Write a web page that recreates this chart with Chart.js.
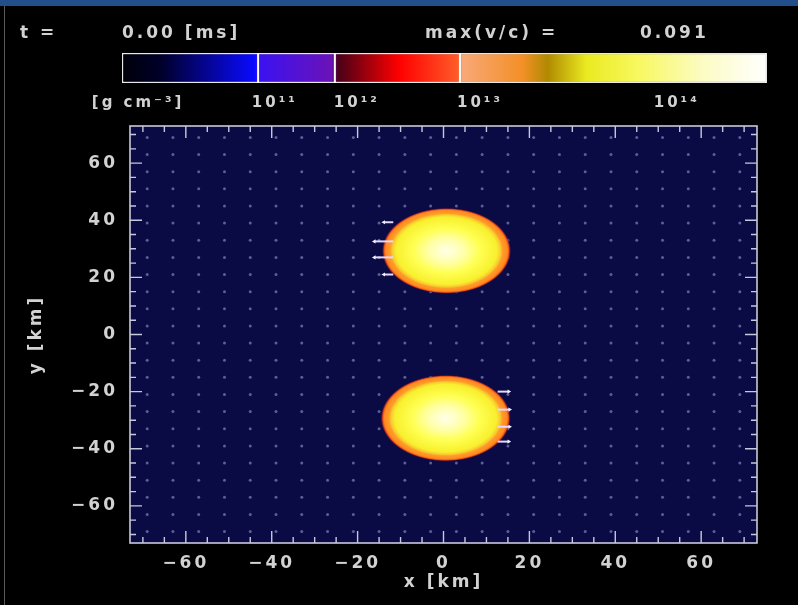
<!DOCTYPE html>
<html><head><meta charset="utf-8">
<script src="https://cdn.jsdelivr.net/npm/chart.js@4.4.1/dist/chart.umd.min.js"></script>
<style>
html,body{margin:0;padding:0;background:#000;width:798px;height:605px;overflow:hidden;}
#band{position:absolute;left:0;top:0;width:798px;height:6px;background:#224f8b;}
#edge{position:absolute;left:4px;top:6px;width:1px;height:599px;background:#5a5a5a;}
#wrapCb{position:absolute;left:0;top:0;width:798px;height:120px;}
#wrapMain{position:absolute;left:0;top:120px;width:798px;height:485px;}
canvas{filter:blur(0.45px);}
</style></head><body>
<div id="wrapCb"><canvas id="cb" width="798" height="120"></canvas></div>
<div id="wrapMain"><canvas id="main" width="798" height="485"></canvas></div>
<div id="band"></div><div id="edge"></div>
<script>
// ---------- data ----------
const headerText = ['t =', '0.00 [ms]', 'max(v/c) =', '0.091'];
const cbLabels = ['[g cm\u207B\u00B3]', '10\u00B9\u00B9', '10\u00B9\u00B2', '10\u00B9\u00B3', '10\u00B9\u2074'];
const cbLabelPos = [0.025, 0.237, 0.364, 0.555, 0.860];
const cbDecadePos = [0.211, 0.330, 0.524];
const xTicks = [-60, -40, -20, 0, 20, 40, 60];
const yTicks = [-60, -40, -20, 0, 20, 40, 60];
const gridCoords = [-69,-63,-57,-51,-45,-39,-33,-27,-21,-15,-9,-3,3,9,15,21,27,33,39,45,51,57,63,69];
const starX = [0.7, 0.5];
const starY = [29.3, -29.3];
const starR = [14.5, 14.6];
const arrowY  = [39.3, 32.6, 27.0, 21.0, -20.0, -26.3, -32.3, -37.5];
const arrowX0 = [-11.7, -11.7, -11.7, -11.7, 12.6, 12.6, 12.6, 12.6];
const arrowX1 = [-13.9, -16.1, -16.1, -13.9, 15.2, 15.4, 15.4, 15.2];

// ---------- styles ----------
const TXT = '#d2d2d2';
const FONT = 'DejaVu Sans';
const cbStops = [[0,'#00000a'],[0.06,'#00002a'],[0.205,'#0a0aff'],[0.215,'#3c12f0'],[0.325,'#6a12b8'],
  [0.335,'#4a0018'],[0.43,'#ff0000'],[0.52,'#ff5a28'],[0.528,'#f8a878'],[0.62,'#f49028'],
  [0.66,'#b08a00'],[0.72,'#eaea20'],[0.8,'#f8f860'],[0.9,'#fcfcc4'],[1,'#ffffff']];
const starStops = [[0,'#ffffea'],[0.28,'#ffffa8'],[0.52,'#ffff52'],[0.78,'#f8f02e'],[0.84,'#f8c830'],
  [0.87,'#ff9c28'],[0.94,'#ff8a20'],[0.965,'#e85018'],[0.985,'rgba(120,20,50,0.6)'],[1,'rgba(40,10,70,0)']];

const spacing = (ls) => ({
  id: 'spacing',
  beforeUpdate(chart){ chart.ctx.letterSpacing = ls; },
  beforeDraw(chart){ chart.ctx.letterSpacing = ls; }
});

// ---------- colour bar ----------
const cbSeparators = {
  id: 'cbSep',
  afterDatasetsDraw(chart){
    const c = chart.ctx, xs = chart.scales.x, a = chart.chartArea;
    c.save(); c.strokeStyle = '#ffffff'; c.lineWidth = 2;
    cbDecadePos.forEach(p => { const x = xs.getPixelForValue(p);
      c.beginPath(); c.moveTo(x, a.top); c.lineTo(x, a.bottom); c.stroke(); });
    c.restore();
  }
};
const header = {
  id: 'header',
  afterDraw(chart){
    const c = chart.ctx, xs = [20, 122, 425, 640];
    c.save(); c.font = 'bold 17px ' + FONT; c.fillStyle = TXT; c.letterSpacing = '3px';
    c.textBaseline = 'middle'; c.textAlign = 'left';
    headerText.forEach((t, i) => c.fillText(t, xs[i], 34));
    c.restore();
  }
};
new Chart(document.getElementById('cb'), {
  type: 'bar',
  data: { labels: ['rho'], datasets: [{
    data: [[0, 1]],
    backgroundColor: (ctx) => {
      const ch = ctx.chart; if (!ch.chartArea) return '#000';
      const xs = ch.scales.x;
      const g = ch.ctx.createLinearGradient(xs.getPixelForValue(0), 0, xs.getPixelForValue(1), 0);
      cbStops.forEach(s => g.addColorStop(s[0], s[1])); return g;
    },
    borderColor: '#e8e8e8', borderWidth: 1.5, borderSkipped: false,
    barPercentage: 1, categoryPercentage: 1 }] },
  options: {
    indexAxis: 'y', responsive: false, animation: false, events: [],
    layout: { padding: { left: 122, right: 31, top: 53, bottom: 0 } },
    plugins: { legend: { display: false }, tooltip: { enabled: false } },
    scales: {
      x: { type: 'linear', min: 0, max: 1,
        afterFit: s => { s.height = 37; s.paddingLeft = 0; s.paddingRight = 0; },
        afterBuildTicks: s => { s.ticks = cbLabelPos.map(v => ({ value: v })); },
        ticks: { callback: (v, i) => cbLabels[i], color: TXT, font: { family: FONT, size: 15, weight: 'bold' },
          padding: 3, autoSkip: false, maxRotation: 0 },
        grid: { display: false }, border: { display: false } },
      y: { display: false }
    }
  },
  plugins: [spacing('3px'), cbSeparators, header]
});

// ---------- main plot ----------
const fmt = v => v < 0 ? '\u2212' + Math.abs(v) : String(v);
const arrowSets = arrowY.map((y, i) => ({
  data: [{ x: arrowX0[i], y: y }, { x: arrowX1[i], y: y }],
  showLine: true, borderColor: '#e4d8ff', borderWidth: 2,
  pointRadius: ctx => ctx.dataIndex === 1 ? 2.4 : 0,
  pointStyle: 'triangle', rotation: arrowX1[i] < arrowX0[i] ? -90 : 90,
  pointBackgroundColor: '#f4eeff', pointBorderWidth: 0
}));
const dotsSet = {
  data: gridCoords.flatMap(x => gridCoords.map(y => ({ x: x, y: y }))),
  pointRadius: 1.5, pointBackgroundColor: 'rgba(130,130,185,0.7)', pointBorderWidth: 0
};
const DOTS = arrowSets.length;

const plotBg = {
  id: 'plotBg',
  beforeDatasetsDraw(chart){
    const a = chart.chartArea, c = chart.ctx;
    c.save(); c.fillStyle = '#0a0a44'; c.fillRect(a.left, a.top, a.width, a.height); c.restore();
  }
};
const stars = {
  id: 'stars',
  afterDatasetDraw(chart, args){
    if (args.index !== DOTS) return;
    const xs = chart.scales.x, ys = chart.scales.y, c = chart.ctx;
    starX.forEach((sx, i) => {
      const cx = xs.getPixelForValue(sx), cy = ys.getPixelForValue(starY[i]);
      const rx = Math.abs(xs.getPixelForValue(sx + starR[i]) - cx);
      const ry = Math.abs(ys.getPixelForValue(starY[i] + starR[i]) - cy);
      c.save(); c.translate(cx, cy); c.scale(rx * 1.04, ry * 1.04);
      const g = c.createRadialGradient(0, 0, 0, 0, 0, 1);
      starStops.forEach(s => g.addColorStop(s[0], s[1]));
      c.fillStyle = g; c.beginPath(); c.arc(0, 0, 1, 0, Math.PI * 2); c.fill(); c.restore();
    });
  }
};
const frame = {
  id: 'frame',
  afterDraw(chart){
    const a = chart.chartArea, c = chart.ctx, xs = chart.scales.x, ys = chart.scales.y;
    c.save(); c.strokeStyle = '#c8c8dc'; c.lineWidth = 1.6;
    c.strokeRect(a.left, a.top, a.width, a.height);
    c.lineWidth = 1.4;
    for (let v = -70; v <= 70; v += 5) {
      const len = v % 20 === 0 ? 12 : 6;
      const x = xs.getPixelForValue(v), y = ys.getPixelForValue(v);
      c.beginPath();
      c.moveTo(x, a.bottom); c.lineTo(x, a.bottom - len);
      c.moveTo(x, a.top); c.lineTo(x, a.top + len);
      c.moveTo(a.left, y); c.lineTo(a.left + len, y);
      c.moveTo(a.right, y); c.lineTo(a.right - len, y);
      c.stroke();
    }
    c.restore();
  }
};
const axisFont = { family: FONT, size: 17, weight: 'bold' };
new Chart(document.getElementById('main'), {
  type: 'scatter',
  data: { datasets: [...arrowSets, dotsSet] },
  options: {
    responsive: false, animation: false, events: [],
    layout: { padding: { left: 0, right: 41, top: 6, bottom: 0 } },
    plugins: { legend: { display: false }, tooltip: { enabled: false } },
    scales: {
      x: { type: 'linear', min: -73, max: 73,
        afterFit: s => { s.height = 62; s.paddingLeft = 0; s.paddingRight = 0; },
        afterBuildTicks: s => { s.ticks = xTicks.map(v => ({ value: v })); },
        grid: { display: false }, border: { display: false },
        ticks: { callback: fmt, color: TXT, font: axisFont, padding: 2, autoSkip: false, maxRotation: 0 },
        title: { display: true, text: 'x [km]', color: TXT, font: axisFont, padding: { top: 0, bottom: 12 } } },
      y: { type: 'linear', min: -73, max: 73,
        afterFit: s => { s.width = 130; s.paddingTop = 0; s.paddingBottom = 0; },
        afterBuildTicks: s => { s.ticks = yTicks.map(v => ({ value: v })); },
        grid: { display: false }, border: { display: false },
        ticks: { callback: fmt, color: TXT, font: axisFont, padding: 4, autoSkip: false },
        title: { display: true, text: 'y [km]', color: TXT, font: axisFont, padding: { top: 26, bottom: 0 } } }
    }
  },
  plugins: [spacing('3px'), plotBg, stars, frame]
});
</script>
</body></html>
